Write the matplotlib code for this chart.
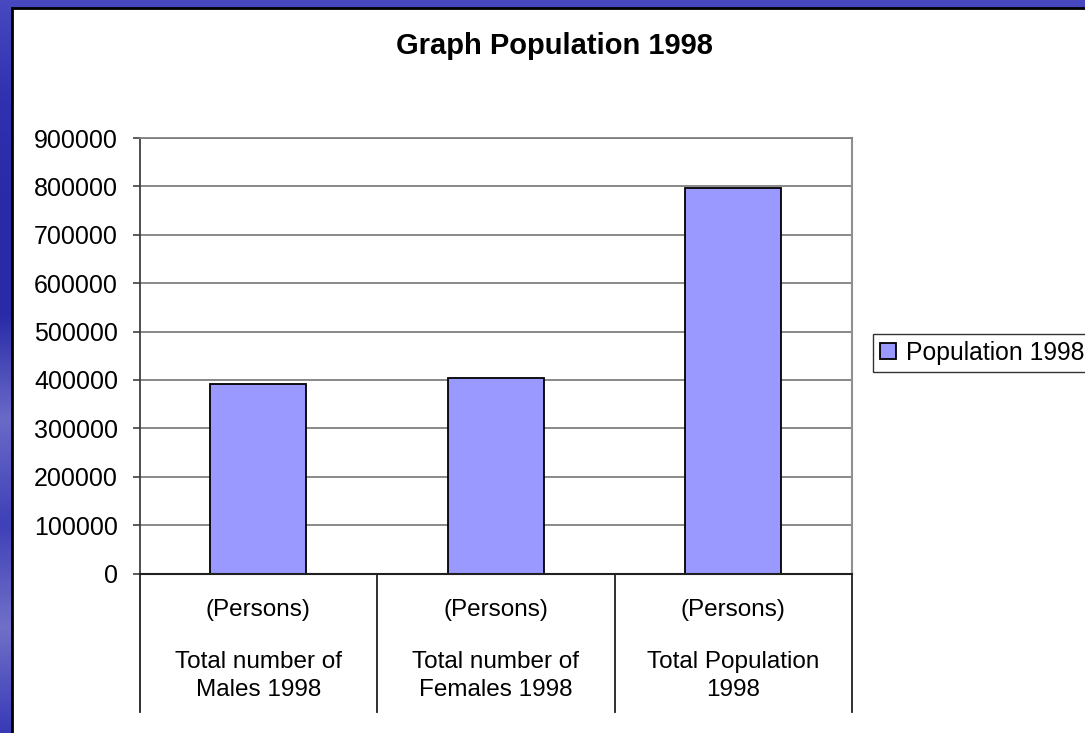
import numpy as np
import matplotlib
matplotlib.use("Agg")
import matplotlib.pyplot as plt
import matplotlib.transforms as mtransforms
from matplotlib.colors import LinearSegmentedColormap
from matplotlib.lines import Line2D

plt.rcParams['font.family'] = ['Liberation Sans', 'DejaVu Sans']

# data
categories = ["Total number of\nMales 1998", "Total number of\nFemales 1998", "Total Population\n1998"]
units = ["(Persons)", "(Persons)", "(Persons)"]
population = [392000, 404000, 796000]
series_name = "Population 1998"
title = "Graph Population 1998"
yticks = [0, 100000, 200000, 300000, 400000, 500000, 600000, 700000, 800000, 900000]

W, H = 1085, 733
fig = plt.figure(figsize=(W / 100, H / 100), dpi=100)

# blue slide frame behind the chart
bg = fig.add_axes([0, 0, 1, 1])
cmap = LinearSegmentedColormap.from_list(
    "frame", ["#4848c0", "#3030b0", "#2a2aa8", "#2a2aa8", "#6a6ac8", "#4040b8", "#7070c8", "#3a3ab8"])
bg.imshow(np.linspace(0, 1, 256).reshape(-1, 1), cmap=cmap, aspect="auto", extent=[0, 1, 0, 1])
bg.set_xlim(0, 1)
bg.set_ylim(0, 1)
bg.axis("off")

# white chart panel
panel = fig.add_axes([12 / W, 0, 1 - 12 / W, 1 - 8 / H])
panel.set_facecolor("white")
panel.set_xticks([])
panel.set_yticks([])
for s in ["right", "bottom"]:
    panel.spines[s].set_visible(False)
for s in ["left", "top"]:
    panel.spines[s].set_color("black")
    panel.spines[s].set_linewidth(2)

# main plot area
x0, x1 = 139.5, 852
y_top, y_bot = 138, 573.5
ax = fig.add_axes([x0 / W, 1 - y_bot / H, (x1 - x0) / W, (y_bot - y_top) / H])
ax.set_facecolor("none")

x = np.arange(len(categories))
bars = ax.bar(x, population, width=0.405, color="#9999ff", edgecolor="black",
              linewidth=1.3, zorder=3, label=series_name)

ax.set_xlim(-0.5, len(categories) - 0.5)
ax.set_ylim(0, 900000)
ax.set_yticks(yticks)
ax.set_yticklabels([str(v) for v in yticks], fontsize=18)
ax.set_xticks([])
ax.tick_params(axis="y", length=5.4, width=1.2, color="#404040", pad=10)
ax.grid(axis="y", color="#808080", linewidth=1.3, zorder=1)

ax.spines["left"].set_color("#404040")
ax.spines["left"].set_linewidth(1.3)
ax.spines["bottom"].set_color("#202020")
ax.spines["bottom"].set_linewidth(1.5)
ax.spines["bottom"].set_zorder(4)
ax.spines["top"].set_color("#808080")
ax.spines["top"].set_linewidth(1.3)
ax.spines["right"].set_color("#909090")
ax.spines["right"].set_linewidth(1.5)

# category table under the axis
trans = mtransforms.blended_transform_factory(ax.transData, fig.transFigure)
for xb in np.arange(-0.5, len(categories), 1.0):
    ax.add_line(Line2D([xb, xb], [1 - y_bot / H, 1 - 712 / H], transform=trans,
                       color="#202020", linewidth=1.3, clip_on=False))
for xi, u, c in zip(x, units, categories):
    ax.text(xi, 1 - 610 / H, u, transform=trans, ha="center", va="center", fontsize=17.5)
    ax.text(xi, 1 - 676 / H, c, transform=trans, ha="center", va="center", fontsize=17.5,
            linespacing=1.4)

fig.text(554 / W, 1 - 46 / H, title, ha="center", va="center", fontsize=21, fontweight="bold")

leg = fig.legend(handles=[bars], labels=[series_name], loc="center left",
                 bbox_to_anchor=(873 / W, 1 - 353 / H), fontsize=17.8, frameon=True,
                 fancybox=False, shadow=False, handlelength=0.62, handleheight=0.62,
                 handletextpad=0.4, borderpad=0.3, borderaxespad=0)
leg.get_frame().set_edgecolor("black")
leg.get_frame().set_linewidth(1.0)

fig.savefig("out.png", dpi=100)
